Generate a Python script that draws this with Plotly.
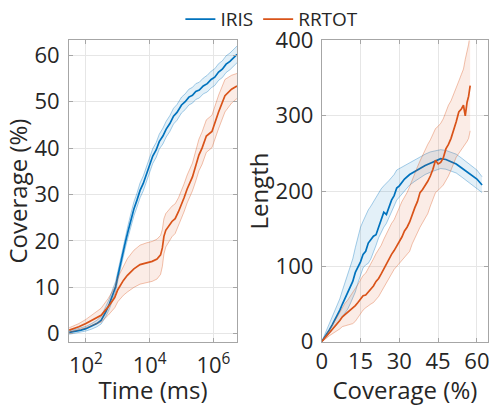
import plotly.graph_objects as go

# ---------------- data ----------------
# Left panel: coverage (%) vs time (ms), log x
t_iris = [30, 45, 70, 100, 150, 220, 300, 420, 550, 700, 850, 1000, 1200, 1450, 1750, 2100,
          2600, 3200, 4000, 5000, 6300, 8000, 10000, 12500, 16000, 20000, 26000, 33000, 43000,
          56000, 72000, 100000, 130000, 170000, 220000, 280000, 360000, 480000, 640000, 850000,
          1100000, 1450000, 1900000, 2500000, 3300000, 4300000, 5500000]
cov_iris_t = [0.3, 0.5, 0.8, 1.1, 1.6, 2.2, 2.9, 4.7, 6.5, 8.5, 10.1, 12.4, 15.0, 17.6, 19.9, 22.1,
              24.6, 26.9, 28.8, 30.9, 32.4, 34.6, 36.4, 38.3, 39.6, 41.4, 42.6, 44.1, 45.3,
              46.9, 47.7, 49.3, 50.0, 51.0, 51.4, 52.2, 52.5, 53.4, 53.9, 54.8, 55.3, 56.4,
              57.0, 58.1, 58.7, 59.6, 60.2]
spread_iris_t = [0.4, 0.4, 0.5, 0.5, 0.6, 0.7, 0.8, 1.0, 1.1, 1.2, 1.1, 1.0, 1.0, 1.1, 1.2, 1.3,
                 1.4, 1.5, 1.5, 1.6, 1.6, 1.6, 1.6, 1.6, 1.6, 1.6, 1.7, 1.7, 1.7,
                 1.7, 1.7, 1.7, 1.7, 1.7, 1.7, 1.7, 1.7, 1.7, 1.8, 1.8, 1.8, 1.8,
                 1.8, 1.8, 1.8, 1.8, 1.8]

t_rr = [30, 60, 100, 200, 300, 500, 800, 1000, 1500, 2000, 3200, 5000, 8000, 12000, 17000,
        22000, 25000, 28000, 32000, 50000, 63000, 80000, 120000, 150000, 220000, 270000,
        350000, 440000, 600000, 900000, 1100000, 1450000, 2300000, 3700000, 5500000]
cov_rr_t = [0.8, 1.5, 2.2, 3.3, 4.0, 5.8, 7.8, 9.5, 11.5, 12.6, 14.0, 14.9, 15.3, 15.6, 16.1,
            17.0, 18.5, 21.0, 22.3, 24.2, 24.8, 26.3, 29.3, 31.2, 33.8, 35.8,
            38.5, 40.0, 42.6, 43.6, 45.5, 47.8, 51.3, 52.7, 53.4]
spread_rr_t = [0.5, 0.7, 0.9, 1.2, 1.5, 1.8, 2.2, 2.6, 3.2, 3.6, 4.0, 4.2, 4.3, 4.3, 4.3,
               4.2, 4.0, 3.8, 3.6, 3.3, 3.2, 3.0, 3.0, 3.0, 3.0, 3.2,
               3.4, 3.5, 3.5, 3.5, 3.6, 3.6, 3.5, 3.0, 2.7]

# Right panel: length vs coverage (%)
cov_iris = [0, 1, 2, 3, 4, 5, 6, 7, 8, 9, 10, 11, 12, 13, 14, 15, 16, 17, 18, 19, 20, 21, 22,
            23, 24, 25, 26, 27, 28, 29, 30, 32, 34, 36, 38, 40, 42, 44, 46, 48, 50, 52, 54,
            56, 58, 60, 62]
len_iris = [0, 5, 11, 16, 22, 28, 35, 42, 50, 58, 64, 73, 80, 92, 99, 106, 116, 120, 131, 136,
            140, 142, 152, 160, 172, 169, 180, 188, 194, 204, 207, 216, 222, 226, 231, 234,
            237, 240, 243, 242, 239, 236, 231, 226, 221, 216, 208]
len_iris_lo = [0, 3, 7, 11, 15, 19, 23, 28, 33, 38, 43, 50, 57, 66, 78, 88, 98, 102, 104, 110,
               118, 128, 138, 146, 152, 157, 165, 172, 180, 188, 192, 200, 208, 213, 218, 222,
               225, 228, 230, 229, 227, 224, 219, 214, 209, 204, 198]
len_iris_hi = [0, 8, 16, 24, 31, 39, 48, 57, 68, 78, 88, 99, 110, 125, 140, 152, 160, 168, 175,
               180, 186, 192, 198, 203, 207, 210, 214, 218, 222, 228, 230, 234, 238, 241, 246,
               249, 252, 254, 255, 254, 252, 249, 244, 239, 233, 228, 219]

cov_rr = [0, 1, 2, 3, 4, 5, 6, 7, 8, 9, 10, 11, 12, 13, 14, 15, 16, 17, 18, 19, 20, 21, 22,
          23, 24, 25, 26, 27, 28, 29, 30, 31, 32, 33, 34, 35, 36, 37, 38, 39, 40, 41, 42, 43,
          44, 45, 46, 47, 48, 49, 50, 51, 52, 53, 54, 54.8, 55.5, 56.2, 56.8, 57.4]
len_rr = [0, 4, 8, 12, 15, 19, 23, 28, 33, 36, 38, 41, 44, 48, 52, 57, 61, 62, 66, 70, 74, 80,
          84, 90, 97, 102, 111, 116, 121, 127, 134, 139, 147, 152, 159, 170, 178, 186, 198,
          202, 207, 213, 220, 229, 241, 236, 238, 244, 256, 262, 270, 280, 292, 305, 309,
          314, 300, 318, 326, 340]
len_rr_lo = [0, 2, 5, 8, 10, 12, 14, 17, 20, 21, 22, 23, 24, 27, 32, 37, 42, 45, 48, 50, 52,
             56, 60, 66, 72, 78, 84, 90, 96, 100, 104, 108, 112, 115, 120, 130, 138, 145, 152,
             158, 164, 170, 180, 190, 198, 201, 205, 208, 214, 220, 228, 238, 245, 250, 255,
             258, 262, 266, 270, 280]
len_rr_hi = [0, 6, 11, 16, 21, 27, 33, 39, 46, 51, 55, 60, 65, 71, 76, 82, 88, 91, 97, 104,
             110, 117, 122, 128, 136, 143, 152, 157, 162, 169, 178, 186, 192, 198, 206, 215,
             225, 232, 240, 248, 254, 262, 268, 276, 283, 286, 290, 296, 305, 314, 320, 328,
             337, 346, 355, 362, 375, 385, 395, 410]

series_names = ["IRIS", "RRTOT"]
time_ticks = [1e2, 1e4, 1e6]
time_tick_text = ["10<sup>2</sup>", "10<sup>4</sup>", "10<sup>6</sup>"]
cov_ticks_left = [0, 10, 20, 30, 40, 50, 60]
cov_ticks_right = [0, 15, 30, 45, 60]
len_ticks = [0, 100, 200, 300, 400]

# ---------------- styling ----------------
BLUE = "#0072BD"
ORANGE = "#D95319"
BLUE_EDGE = "rgba(0,114,189,0.35)"
ORANGE_EDGE = "rgba(217,83,25,0.35)"
BLUE_FILL = "rgba(0,114,189,0.11)"
ORANGE_FILL = "rgba(217,83,25,0.11)"
TEXT = "#262626"
FONT = "Open Sans"

fig = go.Figure()


def add_band(x, lo, hi, mean, edge, fill, color, name, xa, ya, show):
    fig.add_trace(go.Scatter(x=x, y=hi, mode="lines", line=dict(color=edge, width=1),
                             xaxis=xa, yaxis=ya, showlegend=False, hoverinfo="skip"))
    fig.add_trace(go.Scatter(x=x, y=lo, mode="lines", line=dict(color=edge, width=1),
                             fill="tonexty", fillcolor=fill,
                             xaxis=xa, yaxis=ya, showlegend=False, hoverinfo="skip"))
    fig.add_trace(go.Scatter(x=x, y=mean, mode="lines", line=dict(color=color, width=1.7),
                             name=name, xaxis=xa, yaxis=ya, showlegend=show,
                             legendgroup=name))


# Left panel
lo_i = [m - s for m, s in zip(cov_iris_t, spread_iris_t)]
hi_i = [m + s for m, s in zip(cov_iris_t, spread_iris_t)]
lo_r = [m - s for m, s in zip(cov_rr_t, spread_rr_t)]
hi_r = [m + s for m, s in zip(cov_rr_t, spread_rr_t)]
add_band(t_iris, lo_i, hi_i, cov_iris_t, BLUE_EDGE, BLUE_FILL, BLUE, series_names[0], "x", "y", True)
add_band(t_rr, lo_r, hi_r, cov_rr_t, ORANGE_EDGE, ORANGE_FILL, ORANGE, series_names[1], "x", "y", True)

# Right panel
add_band(cov_iris, len_iris_lo, len_iris_hi, len_iris, BLUE_EDGE, BLUE_FILL, BLUE, series_names[0], "x2", "y2", False)
add_band(cov_rr, len_rr_lo, len_rr_hi, len_rr, ORANGE_EDGE, ORANGE_FILL, ORANGE, series_names[1], "x2", "y2", False)

axis_common = dict(
    showline=True, linecolor="#a6a6a6", linewidth=1, mirror="ticks",
    ticks="inside", ticklen=4, tickcolor="#a6a6a6",
    showgrid=True, gridcolor="#e6e6e6", gridwidth=1, zeroline=False,
    tickfont=dict(family=FONT, size=22, color=TEXT),
    ticklabeloverflow="allow", automargin=False,
)
title_font = dict(family=FONT, size=24, color=TEXT)

fig.update_layout(
    width=489, height=406,
    margin=dict(l=0, r=0, t=0, b=0),
    paper_bgcolor="white", plot_bgcolor="white",
    font=dict(family=FONT, color=TEXT),
    showlegend=True,
    legend=dict(orientation="h", x=0.556, y=0.967, xanchor="center", yanchor="middle",
                font=dict(family=FONT, size=19, color=TEXT), bgcolor="rgba(0,0,0,0)",
                itemwidth=30, tracegroupgap=0),
    xaxis=dict(axis_common, type="log", domain=[0.1411, 0.4847], range=[1.47, 6.74],
               tickvals=time_ticks, ticktext=time_tick_text, anchor="y",
               ticklabelstandoff=4,
               title=dict(text="Time (ms)", font=title_font, standoff=0)),
    yaxis=dict(axis_common, domain=[0.1608, 0.9138], range=[-1.7, 63.2],
               tickvals=cov_ticks_left, anchor="x", ticklabelstandoff=4,
               title=dict(text="Coverage (%)", font=title_font, standoff=0)),
    xaxis2=dict(axis_common, domain=[0.6579, 0.998], range=[0, 64.3],
                tickvals=cov_ticks_right, anchor="y2", ticklabelstandoff=0,
                title=dict(text="Coverage (%)", font=title_font, standoff=6)),
    yaxis2=dict(axis_common, domain=[0.1608, 0.9138], range=[0, 400],
                tickvals=len_ticks, anchor="x2", ticklabelstandoff=3,
                title=dict(text="Length", font=title_font, standoff=0)),
)

fig.write_html("out.html")
